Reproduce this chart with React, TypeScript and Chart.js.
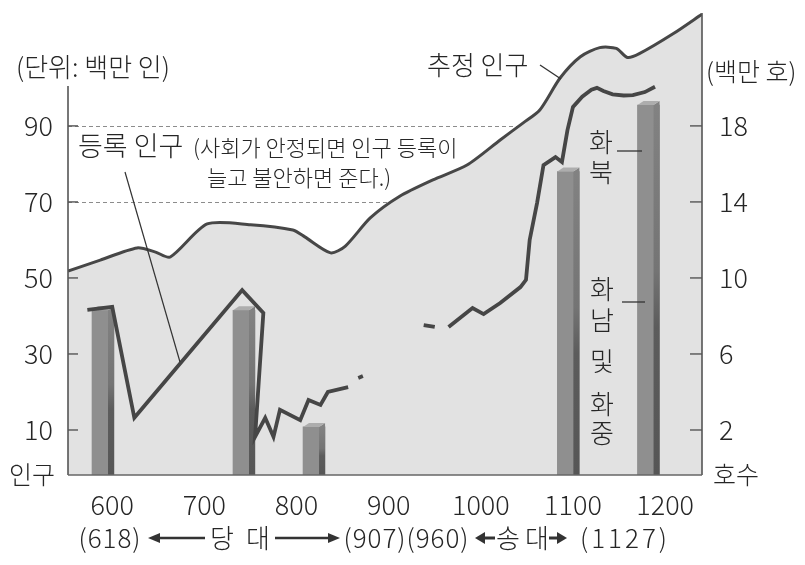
import React, { useEffect, useRef } from 'react';
import { Chart, registerables } from 'chart.js';

Chart.register(...registerables);

const FONT = '"Noto Sans CJK KR", "Noto Sans", sans-serif';

// x axis: years
const yearTicks = [600, 700, 800, 900, 1000, 1100, 1200];
// left axis: population (백만 인)
const popTicks = [10, 30, 50, 70, 90];
// right axis: households (백만 호)
const householdTicks = [2, 6, 10, 14, 18];
const dashedLevels = [70, 90];

// 추정 인구 (estimated population)
const estYears = [552, 587, 627, 647, 663, 703, 750, 796, 809, 837, 853, 880, 912, 948, 985, 1021, 1046, 1064, 1086, 1108, 1129, 1147, 1159, 1172, 1209, 1240];
const estPop = [51.8, 54.7, 57.9, 56.8, 55.5, 64.2, 64.0, 62.6, 60.8, 56.6, 58.4, 65.8, 71.5, 75.8, 79.7, 86.3, 90.8, 94.2, 102.6, 108.2, 110.6, 110.4, 108.0, 109.0, 114.3, 119.4];

// 등록 인구 (registered population), null = no record
const regYears = [573, 600, 624, 741, 764, 755, 766, 775, 782, 804, 813, 826, 834, 856, 861, 867, 872, 905, 938, 950, 957, 965, 991, 1003, 1021, 1043, 1049, 1053, 1061, 1068, 1081, 1088, 1094, 1100, 1110, 1120, 1126, 1133, 1143, 1155, 1165, 1178, 1189];
const regPop = [41.6, 42.4, 13.2, 46.8, 40.8, 8.2, 13.2, 8.2, 15.3, 12.6, 17.9, 16.6, 20.0, 21.3, null, 23.7, 24.2, null, 37.6, 37.1, null, 37.1, 42.1, 40.5, 43.4, 47.6, 49.5, 60.0, 69.7, 79.7, 81.8, 80.5, 88.9, 95.0, 97.7, 99.5, 100.0, 99.2, 98.3, 98.0, 98.1, 98.9, 100.3];

// 호수 (households, 백만 호)
const barYears = [590, 743, 819, 1095, 1182];
const households = [8.3, 8.3, 2.16, 15.6, 19.1];

const X_MIN = 552;
const X_MAX = 1240;
const Y_MIN = -1.84;
const Y_MAX = 119.7;
const RATIO = 5;

const BAR_INDEX = 1;

function text(ctx: any, s: string, x: number, y: number, size: number, align: CanvasTextAlign = 'left', spacing = 0) {
  ctx.font = `300 ${size}px ${FONT}`;
  ctx.textAlign = align;
  ctx.textBaseline = 'middle';
  ctx.fillStyle = '#262626';
  ctx.letterSpacing = spacing + 'px';
  ctx.fillText(s, x, y);
  ctx.letterSpacing = '0px';
}

function arrow(ctx: CanvasRenderingContext2D, tail: number, head: number, y: number, hl: number, hw: number, lw: number) {
  const dir = head > tail ? 1 : -1;
  ctx.strokeStyle = '#333';
  ctx.fillStyle = '#333';
  ctx.lineWidth = lw;
  ctx.beginPath();
  ctx.moveTo(tail, y);
  ctx.lineTo(head - dir * hl * 0.8, y);
  ctx.stroke();
  ctx.beginPath();
  ctx.moveTo(head, y);
  ctx.lineTo(head - dir * hl, y - hw);
  ctx.lineTo(head - dir * hl, y + hw);
  ctx.closePath();
  ctx.fill();
}

function line(ctx: CanvasRenderingContext2D, x1: number, y1: number, x2: number, y2: number, lw: number, color = '#333') {
  ctx.strokeStyle = color;
  ctx.lineWidth = lw;
  ctx.beginPath();
  ctx.moveTo(x1, y1);
  ctx.lineTo(x2, y2);
  ctx.stroke();
}

const decor = {
  id: 'decor',
  beforeDatasetsDraw(chart: any) {
    const { ctx, chartArea, scales } = chart;
    ctx.save();
    ctx.setLineDash([4, 3]);
    dashedLevels.forEach((v) => {
      const py = Math.round(scales.y.getPixelForValue(v)) + 0.5;
      line(ctx, chartArea.left, py, chartArea.right, py, 1, '#8c8c8c');
    });
    ctx.restore();
  },
  afterDatasetDraw(chart: any, args: any) {
    if (args.index !== BAR_INDEX) return;
    const { ctx } = chart;
    const meta = chart.getDatasetMeta(BAR_INDEX);
    ctx.save();
    meta.data.forEach((el: any) => {
      const { x, y, base, width } = el.getProps(['x', 'y', 'base', 'width'], true);
      const L = x - width / 2;
      const R = x + width / 2;
      const side = 6;
      const d = 4;
      ctx.fillStyle = '#8f8f8f';
      ctx.fillRect(L, y, width - side, base - y);
      const g = ctx.createLinearGradient(0, y, 0, base);
      g.addColorStop(0, '#828282');
      g.addColorStop(0.45, '#747474');
      g.addColorStop(0.6, '#5c5c5c');
      g.addColorStop(1, '#565656');
      ctx.fillStyle = g;
      ctx.beginPath();
      ctx.moveTo(R - side, y);
      ctx.lineTo(R, y - d);
      ctx.lineTo(R, base);
      ctx.lineTo(R - side, base);
      ctx.closePath();
      ctx.fill();
      ctx.fillStyle = '#adadad';
      ctx.beginPath();
      ctx.moveTo(L, y);
      ctx.lineTo(L + side, y - d);
      ctx.lineTo(R, y - d);
      ctx.lineTo(R - side, y);
      ctx.closePath();
      ctx.fill();
    });
    ctx.restore();
  },
  afterDatasetsDraw(chart: any) {
    const { ctx, chartArea, scales } = chart;
    const { left, right, top, bottom } = chartArea;
    ctx.save();
    // axes
    line(ctx, left, 86, left, bottom, 1.6, '#555');
    line(ctx, right, top, right, bottom, 1.6, '#555');
    line(ctx, left, bottom, right, bottom, 1.6, '#666');
    popTicks.forEach((v) => {
      const py = scales.y.getPixelForValue(v);
      line(ctx, left, py, left + 10, py, 1.4, '#555');
    });
    householdTicks.forEach((v) => {
      const py = scales.y2.getPixelForValue(v);
      line(ctx, right - 12, py, right, py, 1.4, '#555');
    });

    // unit labels
    text(ctx, '(단위: 백만 인)', 16, 67, 26);
    text(ctx, '(백만 호)', 706, 71, 25);
    text(ctx, '인구', 9, 474, 25);
    text(ctx, '호수', 713, 474, 25);

    // estimated population label
    text(ctx, '추정 인구', 427, 65, 26);
    line(ctx, 540, 65, 561, 79, 1.3);

    // registered population label
    text(ctx, '등록 인구', 78, 146, 27);
    text(ctx, '(사회가 안정되면 인구 등록이', 193, 148, 22);
    text(ctx, '늘고 불안하면 준다.)', 207, 178, 22);
    line(ctx, 125, 172, 180, 362, 1.2);

    // region labels
    ['화', '북'].forEach((c, i) => text(ctx, c, 601, 142 + i * 30, 26, 'center'));
    line(ctx, 617, 151, 642, 151, 1.3);
    const south = ['화', '남', '및', '화', '중'];
    const southY = [289, 320, 361, 404, 433];
    south.forEach((c, i) => text(ctx, c, 602, southY[i], 26, 'center'));
    line(ctx, 622, 302, 645, 302, 1.3);

    // dynasty row
    const ry = 538;
    text(ctx, '(618)', 110, ry, 26, 'center', 1);
    arrow(ctx, 205, 148, ry, 12, 5, 2.6);
    text(ctx, '당', 222, ry, 26, 'center');
    text(ctx, '대', 258, ry, 26, 'center');
    arrow(ctx, 275, 340, ry, 12, 5, 2.6);
    text(ctx, '(907)', 375, ry, 26, 'center', 1);
    text(ctx, '(960)', 438, ry, 26, 'center', 1);
    arrow(ctx, 495, 475, ry, 10, 6, 3);
    text(ctx, '송', 508, ry, 26, 'center');
    text(ctx, '대', 537, ry, 26, 'center');
    arrow(ctx, 549, 567, ry, 10, 6, 3);
    text(ctx, '(1127)', 625, ry, 26, 'center', 3);
    ctx.restore();
  },
};

const tickFont = { family: FONT, size: 27, weight: '300' as any };

function zeroPad(s: any) {
  s.paddingTop = 0;
  s.paddingBottom = 0;
  s.paddingLeft = 0;
  s.paddingRight = 0;
}

export default function App() {
  const ref = useRef<HTMLCanvasElement>(null);
  useEffect(() => {
    const chart = new Chart(ref.current as HTMLCanvasElement, {
      type: 'bar',
      data: {
        datasets: [
          {
            type: 'line',
            label: '추정 인구',
            data: estYears.map((x, i) => ({ x, y: estPop[i] })),
            borderColor: '#474747',
            borderWidth: 3,
            backgroundColor: '#e2e2e2',
            fill: 'start',
            tension: 0.25,
            pointRadius: 0,
            yAxisID: 'y',
            order: 3,
          } as any,
          {
            type: 'bar',
            label: '호수',
            data: barYears.map((x, i) => ({ x, y: households[i] })),
            backgroundColor: '#8f8f8f',
            barThickness: 22,
            base: Y_MIN / RATIO,
            yAxisID: 'y2',
            order: 2,
          } as any,
          {
            type: 'line',
            label: '등록 인구',
            data: regYears.map((x, i) => ({ x, y: regPop[i] })),
            borderColor: '#464646',
            borderWidth: 3.8,
            borderJoinStyle: 'miter',
            fill: false,
            tension: 0,
            spanGaps: false,
            pointRadius: 0,
            yAxisID: 'y',
            order: 1,
          } as any,
        ],
      },
      options: {
        responsive: false,
        animation: false,
        layout: { padding: { top: 13, left: 0, right: 0, bottom: 0 } },
        plugins: { legend: { display: false }, tooltip: { enabled: false } },
        scales: {
          x: {
            type: 'linear',
            min: X_MIN,
            max: X_MAX,
            offset: false,
            grid: { display: false, drawTicks: false },
            border: { display: false },
            afterBuildTicks: (s: any) => {
              s.ticks = yearTicks.map((v) => ({ value: v }));
            },
            afterFit: (s: any) => {
              s.height = 90;
              zeroPad(s);
            },
            ticks: { font: tickFont, color: '#262626', padding: 14, maxRotation: 0, autoSkip: false, callback: (v: any) => String(v) },
          },
          y: {
            type: 'linear',
            position: 'left',
            min: Y_MIN,
            max: Y_MAX,
            grid: { display: false, drawTicks: false },
            border: { display: false },
            afterBuildTicks: (s: any) => {
              s.ticks = popTicks.map((v) => ({ value: v }));
            },
            afterFit: (s: any) => {
              s.width = 68;
              zeroPad(s);
            },
            ticks: { font: tickFont, color: '#262626', padding: 15, autoSkip: false },
          },
          y2: {
            type: 'linear',
            position: 'right',
            min: Y_MIN / RATIO,
            max: Y_MAX / RATIO,
            grid: { display: false, drawTicks: false },
            border: { display: false },
            afterBuildTicks: (s: any) => {
              s.ticks = householdTicks.map((v) => ({ value: v }));
            },
            afterFit: (s: any) => {
              s.width = 103;
              zeroPad(s);
            },
            ticks: { font: tickFont, color: '#262626', padding: 17, autoSkip: false },
          },
        },
      } as any,
      plugins: [decor],
    });
    return () => chart.destroy();
  }, []);
  return (
    <canvas
      ref={ref}
      width={805}
      height={565}
      style={{ position: 'absolute', left: 0, top: 0, width: 805, height: 565, background: '#fff' }}
    />
  );
}
